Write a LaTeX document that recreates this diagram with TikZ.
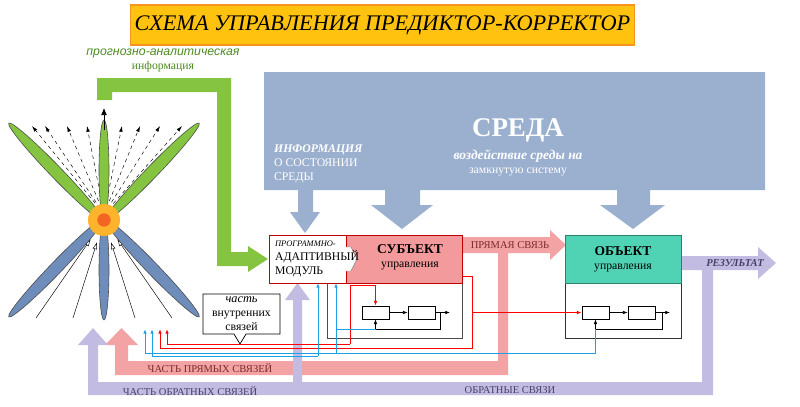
\documentclass[tikz,border=0pt]{standalone}
\usepackage{fontspec}
\setmainfont{Liberation Serif}
\newfontfamily\greenfont{Liberation Sans}
\usetikzlibrary{arrows.meta,positioning}
\definecolor{titlefill}{HTML}{FFC20E}
\definecolor{titleline}{HTML}{F7941D}
\definecolor{sky}{HTML}{9BB0CF}
\definecolor{leaf}{HTML}{84C441}
\definecolor{leafdark}{HTML}{4E8A1E}
\definecolor{steel}{HTML}{6F8DBB}
\definecolor{rose}{HTML}{F4A3A5}
\definecolor{subjfill}{HTML}{F39A9C}
\definecolor{teal}{HTML}{50D2B4}
\definecolor{lilac}{HTML}{C3BCE2}
\definecolor{sun}{HTML}{FDB32C}
\definecolor{core}{HTML}{F26522}
\definecolor{wine}{HTML}{7A2A2A}
\definecolor{plum}{HTML}{4A3F6B}
\definecolor{wire}{HTML}{1EA0E6}

\begin{document}
\begin{tikzpicture}[x=0.03cm,y=-0.03cm,
  box/.style={draw, line width=0.6pt, inner sep=0pt},
  minibox/.style={draw, line width=0.6pt, minimum width=0.81cm, minimum height=0.39cm, inner sep=0pt},
  flow/.style={-{Latex[length=4pt,width=3pt]}, line width=0.5pt},
  redwire/.style={flow, draw=red, line width=0.8pt},
  bluewire/.style={flow, draw=wire, line width=0.8pt},
  fan/.style={-{Latex[length=5pt,width=3pt]}, dashed, line width=0.4pt},
  rise/.style={-{Latex[open,length=6pt,width=4pt]}, line width=0.4pt, shorten >=0.7cm},
  petal/.style={draw=black!70, line width=0.5pt}]
\useasboundingbox (0,0) rectangle (800,406);

% title
\node[fill=titlefill, draw=titleline, line width=1pt, minimum width=15.03cm, minimum height=1.2cm]
  (title) at (382.5,25) {\fontsize{19}{22}\selectfont\itshape СХЕМА УПРАВЛЕНИЯ ПРЕДИКТОР-КОРРЕКТОР};
\node[text=leafdark, align=center] (forecast) at (163,60)
  {\greenfont\fontsize{10.5}{11}\selectfont\itshape прогнозно-аналитическая\\ информация};

% environment
\fill[sky] (264,72) -- (765,72) -- (765,190) -- (650,190) -- (650,205) -- (665,205) -- (633,229)
  -- (600,205) -- (617,205) -- (617,190) -- (420,190) -- (420,205) -- (433,205) -- (402,229)
  -- (371,205) -- (385,205) -- (385,190) -- (313,190) -- (313,212) -- (320,212) -- (305,233)
  -- (290,212) -- (298,212) -- (298,190) -- (264,190) -- cycle;
\node[text=white] (sreda) at (518,130) {\fontsize{23}{26}\selectfont\bfseries СРЕДА};
\node[text=white, align=center] (impact) at (518,163)
  {\fontsize{11.5}{13}\selectfont\bfseries\itshape воздействие среды на\\ замкнутую систему};
\node[text=white, align=left, anchor=west] (envinfo) at (270,164)
  {\fontsize{10}{11.5}\selectfont\bfseries\itshape ИНФОРМАЦИЯ\\ О СОСТОЯНИИ\\ СРЕДЫ};

% green forecast arrow
\fill[leaf] (97,100) -- (97,78) -- (231,78) -- (231,252) -- (248,252) -- (248,246) -- (268,259)
  -- (248,272) -- (248,266) -- (217,266) -- (217,92) -- (112,92) -- (112,100) -- cycle;

% direct links band
\fill[rose] (462,237) -- (550,237) -- (550,230) -- (566,245) -- (550,260) -- (550,253) -- (508,253)
  -- (508,375) -- (115,375) -- (115,345) -- (105,345) -- (121.5,328) -- (138,345) -- (128,345)
  -- (128,361) -- (498,361) -- (498,253) -- (462,253) -- cycle;
\node[text=wine] (direct) at (510,245) {\fontsize{9}{10}\selectfont ПРЯМАЯ СВЯЗЬ};
\node[text=wine] (partdirect) at (210,368) {\fontsize{9}{10}\selectfont ЧАСТЬ ПРЯМЫХ СВЯЗЕЙ};

% feedback band
\fill[lilac] (681,256) -- (758,256) -- (758,247) -- (776,263) -- (758,279) -- (758,270) -- (713,270)
  -- (713,395) -- (88,395) -- (88,345) -- (78,345) -- (93,328) -- (108,345) -- (98,345) -- (98,382)
  -- (293,382) -- (293,300) -- (285,300) -- (297.5,283) -- (310,300) -- (302,300) -- (302,382)
  -- (702,382) -- (702,270) -- (681,270) -- cycle;
\node[text=plum] (result) at (735,263) {\fontsize{9}{10}\selectfont\bfseries\itshape РЕЗУЛЬТАТ};
\node[text=plum] (feedback) at (510,390) {\fontsize{9}{10}\selectfont ОБРАТНЫЕ СВЯЗИ};
\node[text=plum] (partfeed) at (190,391) {\fontsize{9}{10}\selectfont ЧАСТЬ ОБРАТНЫХ СВЯЗЕЙ};

% subject and object
\node[box, draw=black!70, minimum width=4.05cm, minimum height=1.65cm] (subjin) at (394.5,310.5) {};
\node[box, draw=black!80, minimum width=3.48cm, minimum height=1.65cm] (objin) at (623,310.5) {};
\node[box, draw=red!75!black, fill=subjfill, minimum width=3.48cm, minimum height=1.44cm, align=center]
  (subj) at (404,259) {};
\node[box, draw=red!75!black, fill=white, minimum width=2.31cm, minimum height=1.44cm] (mod) at (307.5,259) {};
\fill[white] (346,247) -- (351,247) -- (357,259) -- (351,271) -- (346,271) -- cycle;
\draw[black!50, line width=0.4pt] (346,247) -- (351,247) -- (357,259) -- (351,271) -- (346,271);
\node[align=left, anchor=west] (modtext) at (271,259)
  {\fontsize{7.2}{8.5}\selectfont\itshape ПРОГРАММНО-\\ АДАПТИВНЫЙ\\ МОДУЛЬ};
\node[align=center] (subjtext) at (410,257)
  {\fontsize{11.5}{12.5}\selectfont\bfseries СУБЪЕКТ\\ управления};
\node[box, draw=teal!60!black, fill=teal, minimum width=3.48cm, minimum height=1.44cm, align=center]
  (obj) at (623,259) {\fontsize{11.5}{12.5}\selectfont\bfseries ОБЪЕКТ\\ управления};

\node[minibox] (sa) at (375.5,312.5) {};
\node[minibox] (sb) at (421.5,312.5) {};
\node[minibox] (oa) at (595.5,312.5) {};
\node[minibox] (ob) at (641.5,312.5) {};
\draw[flow] (sa) -- (sb);
\draw[flow] (sb.east) -- (450,312.5);
\draw[flow] (440,312.5) -- (440,329) -- (375.5,329) -- (sa.south);
\draw[flow] (oa) -- (ob);
\draw[flow] (ob.east) -- (670,312.5);
\draw[flow] (662,312.5) -- (662,329) -- (595.5,329) -- (oa.south);

% inner wires
\draw[redwire] (462,276) -- (472,276) -- (472,348) -- (160,348) -- (160,329);
\draw[redwire] (472,312.5) -- (oa.west);
\draw[redwire] (350,344) -- (350,285) -- (375.5,285) -- (sa.north);
\draw[redwire] (350,344) -- (167,344) -- (167,329);
\draw[bluewire] (595.5,329) -- (595.5,353) -- (145,353) -- (145,329);
\draw[bluewire] (336,353) -- (336,283);
\draw[wire, line width=0.8pt] (336,329) -- (375.5,329);
\draw[bluewire] (318,356) -- (152,356) -- (152,329);
\draw[bluewire] (318,356) -- (318,283);

% callout
\draw[fill=white, line width=0.6pt] (203,294) -- (280,294) -- (280,334) -- (246,334) -- (240,344)
  -- (234,334) -- (203,334) -- cycle;
\node[align=center] (note) at (241.5,314)
  {\fontsize{10.5}{10.5}\selectfont\itshape часть\\ внутренних\\ связей};

% predictor star
\foreach \tx in {32,45,67,87,122,140,160,182}
  \draw[fan] (104,214) -- (\tx,126);
\foreach \bx in {36,73,135,172}
  \draw[rise] (\bx,318) -- (104,220);
\fill[leaf, petal] (104,170) ellipse [x radius=5, y radius=50];
\fill[leaf, petal, shift={(56,172)}, rotate=134] (0,0) ellipse [x radius=68, y radius=6];
\fill[leaf, petal, shift={(152,172)}, rotate=46] (0,0) ellipse [x radius=68, y radius=6];
\fill[steel, petal] (104,270) ellipse [x radius=5, y radius=50];
\fill[steel, petal, shift={(56,268)}, rotate=46] (0,0) ellipse [x radius=68, y radius=6];
\fill[steel, petal, shift={(152,268)}, rotate=134] (0,0) ellipse [x radius=68, y radius=6];
\draw[-{Latex[length=6pt,width=5pt]}, line width=0.6pt] (104,130) -- (104,108);
\node[circle, fill=sun, minimum size=0.96cm, inner sep=0pt] (star) at (104,220) {};
\node[circle, fill=core, minimum size=0.4cm, inner sep=0pt] at (star) {};
\end{tikzpicture}
\end{document}
